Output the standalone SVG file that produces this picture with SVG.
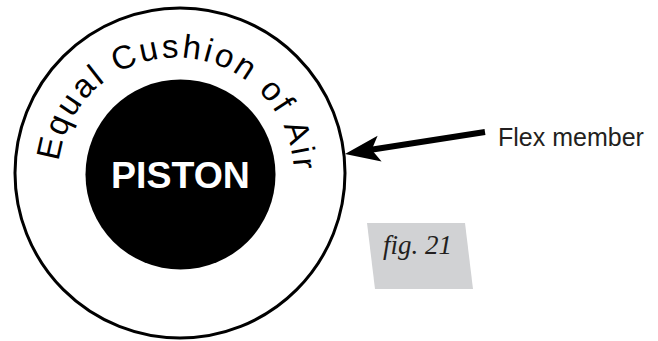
<svg xmlns="http://www.w3.org/2000/svg" xmlns:xlink="http://www.w3.org/1999/xlink" width="658" height="341" viewBox="0 0 658 341">
<style>
.outer{fill:#fff;stroke:#000;stroke-width:3}
.piston{fill:#000}
.pt{font-family:"Liberation Sans",Arial,sans-serif;font-weight:bold;font-size:37.5px;fill:#fff;text-anchor:middle}
.arc{font-family:"Liberation Sans",Arial,sans-serif;font-size:33px;fill:#000;letter-spacing:2.7px}
.lbl{font-family:"Liberation Sans",Arial,sans-serif;font-size:25px;fill:#231f20}
.fig{font-family:"Liberation Serif","Times New Roman",serif;font-style:italic;font-size:27px;fill:#231f20}
</style>
<defs>
<path id="textArc" d="M 58.9 161.6 A 118 118 0 1 1 292.2 196.5"/>
</defs>
<rect width="658" height="341" fill="#fff"/>
<g id="cushion">
<circle class="outer" cx="180" cy="173" r="165"/>
<text class="arc"><textPath xlink:href="#textArc" href="#textArc">Equal Cushion of Air</textPath></text>
</g>
<g id="piston">
<circle class="piston" cx="180.5" cy="174.5" r="95"/>
<text class="pt" x="180.5" y="188">PISTON</text>
</g>
<g id="connectors">
<line x1="371" y1="149.8" x2="485" y2="132" stroke="#000" stroke-width="6"/>
<polygon points="345,154 377.6,135.8 371.7,149.8 381.6,161.4" fill="#000"/>
</g>
<g id="flex-member">
<text class="lbl" x="498" y="146">Flex member</text>
</g>
<g id="fig-label">
<polygon points="367,223 465,223 473,289 375,289" fill="#d1d2d4"/>
<text class="fig" x="383" y="254">fig. 21</text>
</g>
</svg>
